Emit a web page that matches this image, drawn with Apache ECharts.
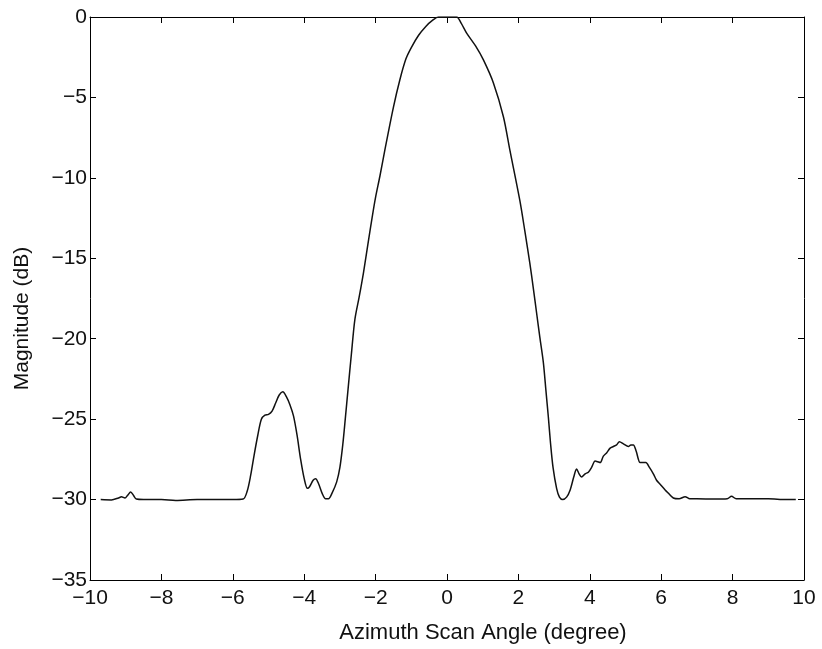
<!DOCTYPE html>
<html>
<head>
<meta charset="utf-8">
<script src="https://cdn.jsdelivr.net/npm/echarts@6/dist/echarts.min.js"></script>
<style>
html,body{margin:0;padding:0;background:#fff;}
#chart{width:822px;height:649px;}
</style>
</head>
<body>
<div id="chart"></div>
<script>
// Azimuth scan angle (degree)
const angles = [
  -9.70, -9.40, -9.20, -9.12, -9.02, -8.95, -8.86, -8.78, -8.70, -8.50,
  -8.00, -7.60, -7.00, -6.50, -6.00, -5.71, -5.60, -5.50, -5.40, -5.30,
  -5.20, -5.10, -5.00, -4.90, -4.80, -4.70, -4.60, -4.50, -4.40, -4.30,
  -4.20, -4.10, -4.00, -3.91, -3.85, -3.75, -3.68, -3.60, -3.50, -3.40,
  -3.32, -3.22, -3.09, -3.00, -2.92, -2.85, -2.77, -2.68, -2.58, -2.46,
  -2.34, -2.20, -2.10, -2.00, -1.88, -1.74, -1.50, -1.32, -1.15, -1.00,
  -0.80, -0.60, -0.40, -0.24, 0.00, 0.27, 0.40, 0.55, 0.80, 1.02,
  1.30, 1.58, 1.76, 2.04, 2.18, 2.32, 2.42, 2.51, 2.60, 2.70,
  2.77, 2.84, 2.90, 2.97, 3.07, 3.15, 3.24,
  3.35, 3.45, 3.55, 3.63, 3.70, 3.77, 3.87, 3.96, 4.05, 4.15,
  4.22, 4.29, 4.38, 4.47, 4.57, 4.66, 4.75, 4.83, 4.95, 5.08,
  5.15, 5.22, 5.30, 5.41, 5.50, 5.57, 5.67, 5.78, 5.87, 5.97,
  6.11, 6.20, 6.34, 6.50, 6.67, 6.80, 7.00, 7.50, 7.85, 7.97,
  8.10, 8.50, 9.00, 9.50, 9.77
];
// Magnitude (dB)
const magnitudes = [
  -30.00, -30.02, -29.90, -29.83, -29.90, -29.75, -29.53, -29.75, -29.97, -30.00,
  -30.00, -30.05, -30.00, -30.00, -30.00, -29.97, -29.50, -28.50, -27.20, -26.00,
  -25.00, -24.75, -24.70, -24.50, -24.00, -23.50, -23.30, -23.60, -24.10, -24.80,
  -26.00, -27.50, -28.70, -29.30, -29.20, -28.80, -28.70, -29.00, -29.60, -29.95,
  -29.95, -29.60, -28.90, -28.00, -26.60, -25.00, -23.10, -21.00, -18.80, -17.40,
  -15.90, -13.90, -12.50, -11.20, -9.90, -8.26, -5.60, -3.90, -2.60, -1.90,
  -1.15, -0.60, -0.20, 0.00, 0.00, 0.00, -0.40, -1.00, -1.80, -2.67,
  -4.10, -6.20, -8.26, -11.40, -13.30, -15.30, -16.90, -18.40, -19.90, -21.50,
  -23.20, -24.90, -26.50, -28.00, -29.30, -29.85, -30.00,
  -29.85, -29.40, -28.60, -28.10, -28.40, -28.60, -28.40, -28.30, -28.00, -27.60,
  -27.65, -27.70, -27.30, -27.10, -26.80, -26.70, -26.60, -26.40, -26.55, -26.70,
  -26.60, -26.60, -27.00, -27.70, -27.70, -27.70, -28.00, -28.40, -28.80, -29.05,
  -29.40, -29.60, -29.90, -29.95, -29.82, -29.95, -29.95, -29.97, -29.95, -29.80,
  -29.95, -29.95, -29.95, -30.00, -30.00
];
const xTicks = { min: -10, max: 10, interval: 2 };
const yTicks = { min: -35, max: 0, interval: 5 };

const fmt = v => String(v).replace('-', '\u2212');
const font = '"Liberation Sans", Arial, sans-serif';
const txt = '#111';
const lineStyle = { color: '#000', width: 1 };
const tickCfg = { show: true, inside: true, length: 6, lineStyle: { color: '#000', width: 1 } };

const chart = echarts.init(document.getElementById('chart'), null, { renderer: 'canvas' });
chart.setOption({
  backgroundColor: '#fff',
  animation: false,
  grid: { left: 90, right: 18, top: 17, bottom: 68, containLabel: false },
  xAxis: [
    {
      type: 'value', min: xTicks.min, max: xTicks.max, interval: xTicks.interval,
      name: 'Azimuth Scan Angle (degree)', nameLocation: 'middle', nameGap: 42,
      nameTextStyle: { fontFamily: font, fontSize: 22, color: txt, padding: [0, 0, 0, 72] },
      axisLine: { show: true, onZero: false, lineStyle },
      axisTick: tickCfg,
      axisLabel: { formatter: fmt, fontFamily: font, fontSize: 21, color: txt, margin: 8 },
      splitLine: { show: false }
    },
    {
      type: 'value', position: 'top', min: xTicks.min, max: xTicks.max, interval: xTicks.interval,
      axisLine: { show: true, onZero: false, lineStyle },
      axisTick: tickCfg,
      axisLabel: { show: false },
      splitLine: { show: false }
    }
  ],
  yAxis: [
    {
      type: 'value', min: yTicks.min, max: yTicks.max, interval: yTicks.interval,
      name: 'Magnitude (dB)', nameLocation: 'middle', nameGap: 57,
      nameTextStyle: { fontFamily: font, fontSize: 21, color: txt, padding: [0, 40, 0, 0] },
      axisLine: { show: true, onZero: false, lineStyle },
      axisTick: tickCfg,
      axisLabel: { formatter: fmt, fontFamily: font, fontSize: 21, color: txt, margin: 3 },
      splitLine: { show: false }
    },
    {
      type: 'value', position: 'right', min: yTicks.min, max: yTicks.max, interval: yTicks.interval,
      axisLine: { show: true, onZero: false, lineStyle },
      axisTick: tickCfg,
      axisLabel: { show: false },
      splitLine: { show: false }
    }
  ],
  series: [
    {
      type: 'line',
      xAxisIndex: 0, yAxisIndex: 0,
      data: angles.map((a, i) => [a, magnitudes[i]]),
      showSymbol: false,
      smooth: 0.3,
      lineStyle: { color: '#111', width: 1.5 }
    }
  ]
});
</script>
</body>
</html>
